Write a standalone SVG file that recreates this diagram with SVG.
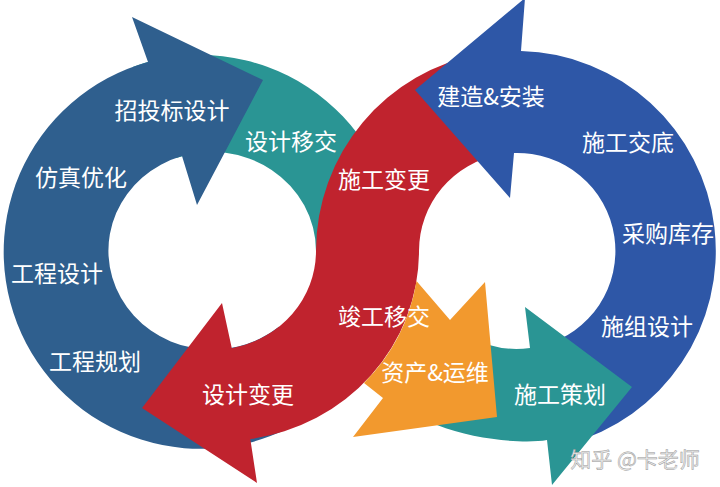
<svg xmlns="http://www.w3.org/2000/svg" width="720" height="487" viewBox="0 0 720 487">
  <style>
    .lbl { font-family: "Noto Sans CJK SC", "Noto Sans", "Liberation Sans", sans-serif; font-size: 23px; fill: #ffffff; text-anchor: middle; }
    .wm { font-family: "Noto Sans CJK SC", "Noto Sans", "Liberation Sans", sans-serif; font-size: 21px; fill: #ececec; stroke: #9a9a9a; stroke-width: 0.5; text-anchor: middle; }
    .teal { fill: #2a9594; }
    .blueL { fill: #2f5f8e; }
    .red { fill: #c0232e; }
    .blueR { fill: #2e57a7; }
    .orange { fill: #f2992e; }
  </style>
  <rect width="720" height="487" fill="#ffffff"/>

  <!-- teal band, upper-right of left ring (passes under red) -->
  <g id="band-teal-left">
    <path class="teal" d="M132.6,66.9 A197,197 0 0 1 396.6,240 L330,251 L316,251 A104,99 0 0 0 176.4,158 Z"/>
  </g>

  <!-- blue arrow, left ring -->
  <g id="arrow-blue-left">
    <path class="blueL" d="M148,62 A197,197 0 1 0 327,403 L278.9,326.8 A104,99 0 1 1 182,156 L197,205 L263,80 L132,17 Z"/>
  </g>

  <!-- red S-shaped arrow -->
  <g id="arrow-red">
    <path class="red" d="M481,54 A200,200 0 0 0 316,251 A104,99 0 0 1 231.8,348.2 L222,303 L142,408 L257,483 L250.3,439 A196,190 0 0 0 419,251 A98,98 0 0 1 500,154.5 Z"/>
  </g>

  <!-- blue arrow, right ring -->
  <g id="arrow-blue-right">
    <path class="blueR" d="M521,51 A200,200 0 0 1 568,444 L542.4,345.7 A98,98 0 0 0 514,153 L510,198 L415,90 L525,-2 Z"/>
  </g>

  <!-- teal arrow, bottom of right ring -->
  <g id="arrow-teal-right">
    <path class="teal" d="M420,330 L470,337 A98,98 0 0 0 530,348 L525,307 L632,387 L552,485 L547,440 C525,444 475,440 437,425 L420,420 Z"/>
  </g>

  <!-- orange arrow -->
  <g id="arrow-orange">
    <path class="orange" d="M416.5,281 L450,320 L485,282 L497,417 L353,437 L383,398 L364,383 A196,190 0 0 0 416.5,281 Z"/>
  </g>

  <!-- stage labels -->
  <g id="labels">
    <g id="node-zhaotoubiao"><text class="lbl" x="172" y="119">招投标设计</text></g>
    <g id="node-sheji-yijiao"><text class="lbl" x="291" y="150">设计移交</text></g>
    <g id="node-fangzhen"><text class="lbl" x="81" y="186">仿真优化</text></g>
    <g id="node-gongcheng-sheji"><text class="lbl" x="57" y="282">工程设计</text></g>
    <g id="node-gongcheng-guihua"><text class="lbl" x="95" y="370">工程规划</text></g>
    <g id="node-sheji-biangeng"><text class="lbl" x="248" y="403">设计变更</text></g>
    <g id="node-shigong-biangeng"><text class="lbl" x="384" y="188">施工变更</text></g>
    <g id="node-jianzao"><text class="lbl" x="491" y="105">建造&amp;安装</text></g>
    <g id="node-shigong-jiaodi"><text class="lbl" x="628" y="151">施工交底</text></g>
    <g id="node-caigou"><text class="lbl" x="668" y="242">采购库存</text></g>
    <g id="node-shizu"><text class="lbl" x="647" y="335">施组设计</text></g>
    <g id="node-shigong-cehua"><text class="lbl" x="560" y="403">施工策划</text></g>
    <g id="node-jungong"><text class="lbl" x="384" y="325">竣工移交</text></g>
    <g id="node-zichan"><text class="lbl" x="435" y="381">资产&amp;运维</text></g>
  </g>

  <g id="connectors"></g>

  <g id="watermark"><text class="wm" x="635" y="467">知乎 @卡老师</text></g>
</svg>
